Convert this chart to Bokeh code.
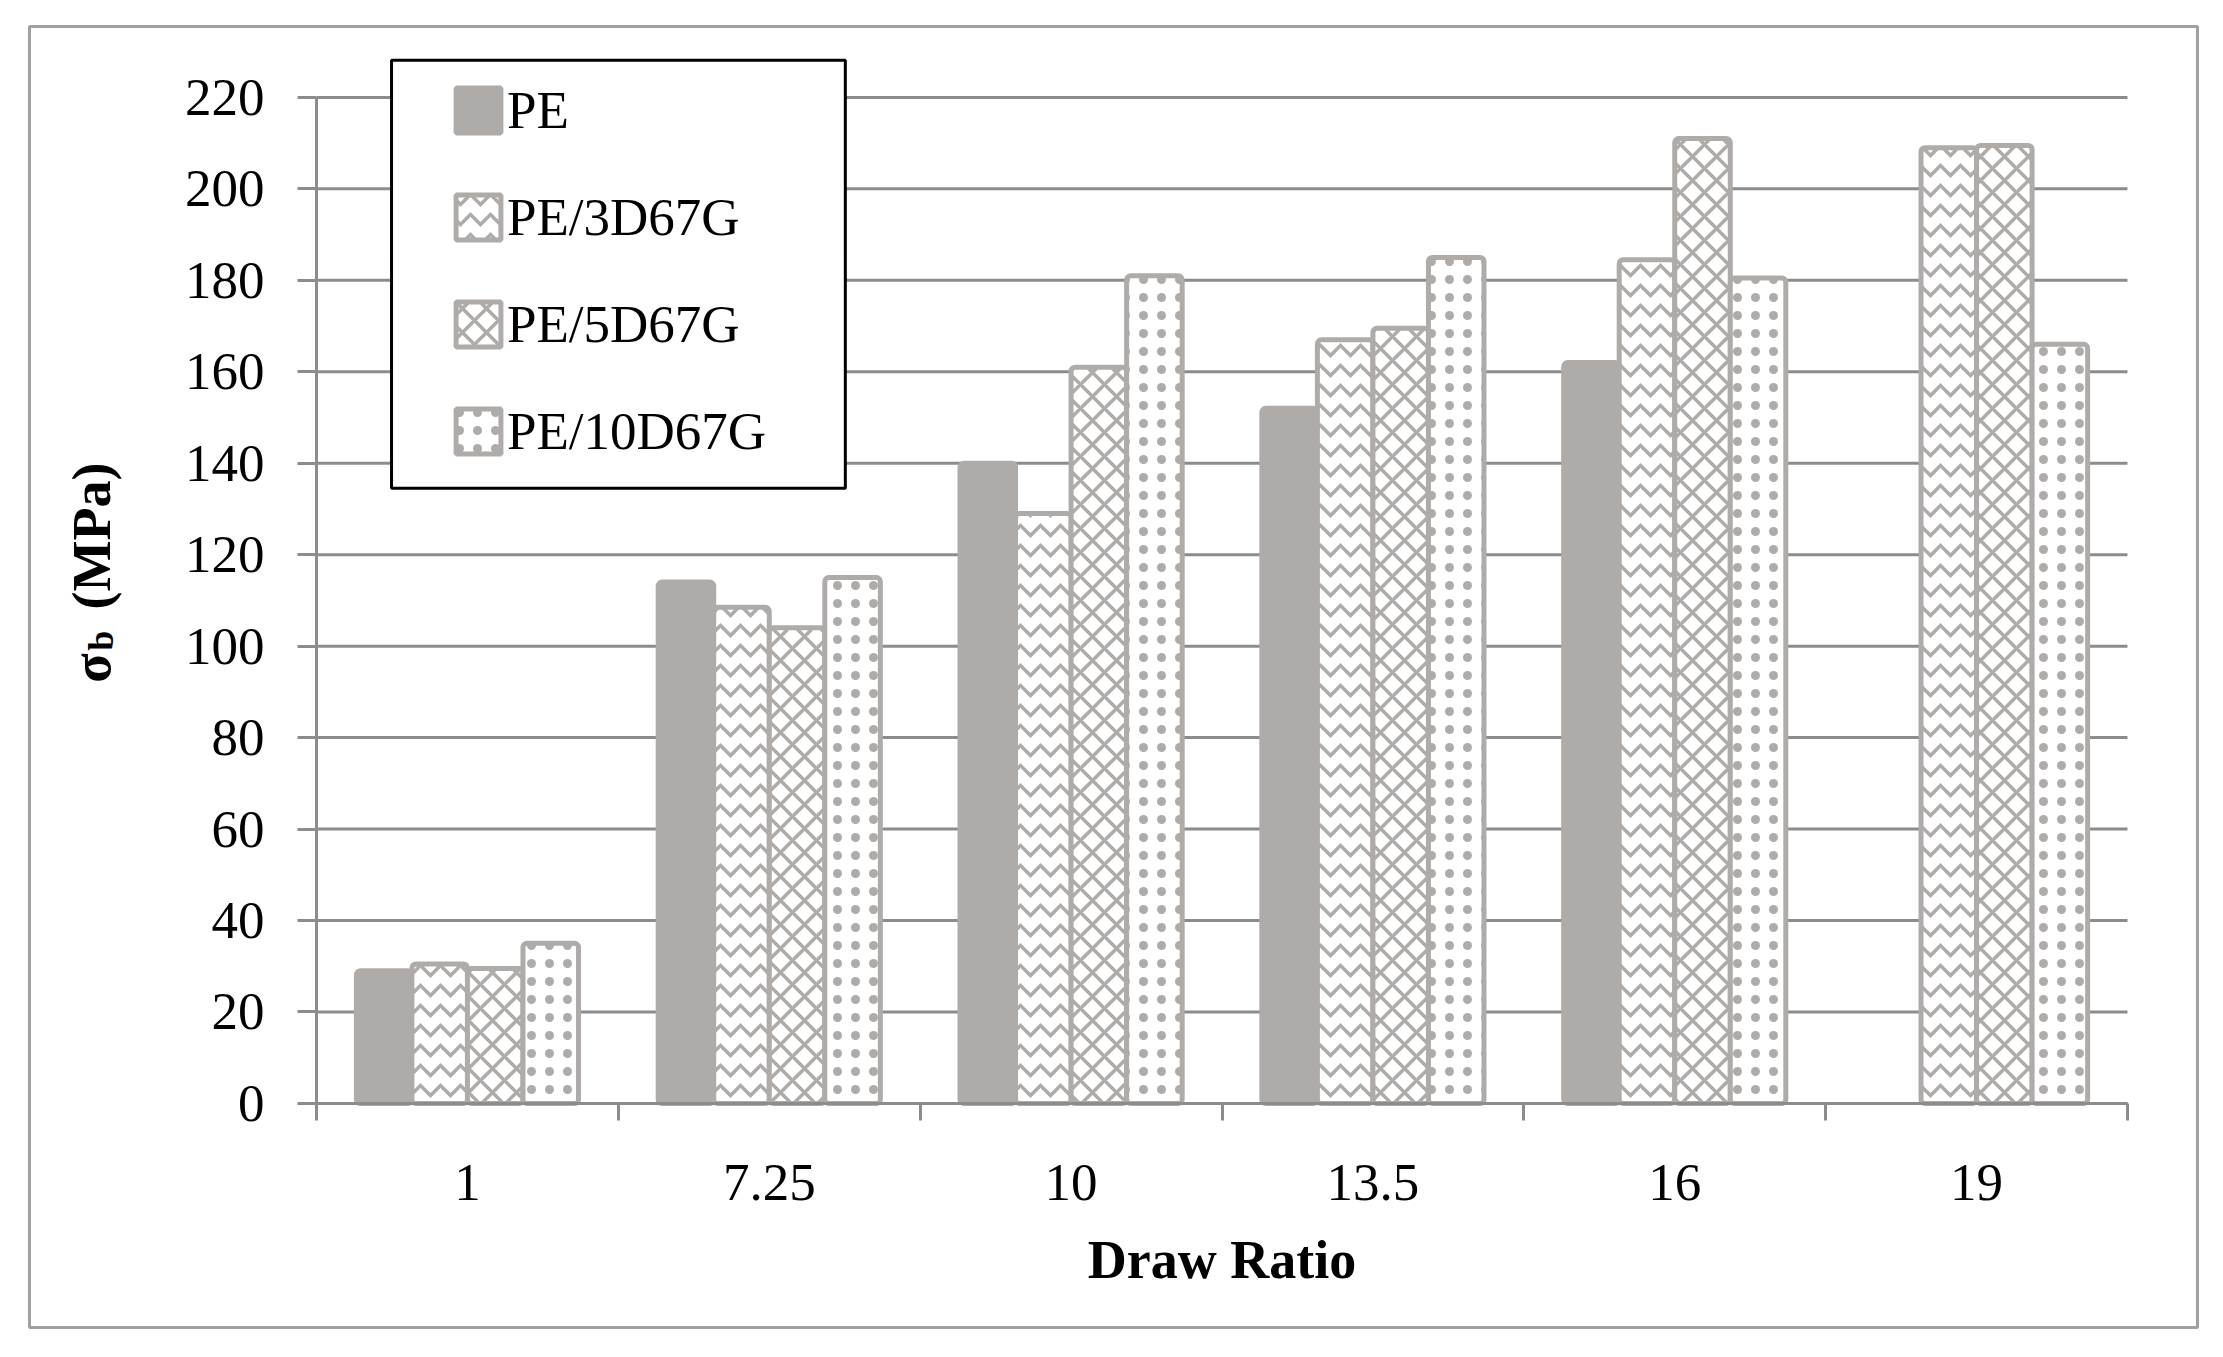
import numpy as np
from bokeh.plotting import figure
from bokeh.models import (ColumnDataSource, Range1d, FixedTicker, Legend, LegendItem,
                          BoxAnnotation, Label)
from bokeh.embed import file_html
from bokeh.resources import INLINE

# ---------------- data ----------------
draw_ratios = ["1", "7.25", "10", "13.5", "16", "19"]
pe        = [29.0, 114.0, 140.0, 152.0, 162.0, np.nan]
pe_3d67g  = [30.5, 108.5, 129.0, 167.0, 184.5, 209.0]
pe_5d67g  = [29.5, 104.0, 161.0, 169.5, 211.0, 209.5]
pe_10d67g = [35.0, 115.0, 181.0, 185.0, 180.5, 166.0]
series_names = ["PE", "PE/3D67G", "PE/5D67G", "PE/10D67G"]
y_ticks = list(range(0, 221, 20))

# ---------------- style ----------------
FONT = "Liberation Serif"
BAR_GRAY = "#AFABA9"
GRID_GRAY = "#8C8C8C"
BORDER_GRAY = "#A0A0A0"

n = len(draw_ratios)
centers = np.arange(n) + 0.5
bar_w = 0.184
offsets = [-0.276, -0.092, 0.092, 0.276]
hatches = [None, "horizontal_wave", "diagonal_cross", "dot"]
hatch_scales = [12, 20, 24, 18]
values = [pe, pe_3d67g, pe_5d67g, pe_10d67g]

# frame covers the whole bordered chart area; axes are fixed at x=0 / y=0
p = figure(width=2215, height=1349, output_backend="svg", toolbar_location=None,
           x_range=Range1d(-0.951, 6.232), y_range=Range1d(-49.0, 235.5),
           min_border_left=29, min_border_top=26, min_border_right=18,
           min_border_bottom=22)
p.outline_line_color = BORDER_GRAY
p.outline_line_width = 3
p.background_fill_color = "white"
p.border_fill_color = "white"
p.xgrid.visible = False
p.ygrid.visible = False

# horizontal grid lines within the plotting area
grid_src = ColumnDataSource(dict(y=y_ticks))
p.segment(x0=0, x1=n, y0="y", y1="y", source=grid_src,
          line_color=GRID_GRAY, line_width=3, level="underlay")

renderers = []
for name, vals, off, hatch, hs in zip(series_names, values, offsets, hatches, hatch_scales):
    src = ColumnDataSource(dict(x=centers + off, top=vals))
    kw = dict(x="x", top="top", bottom=0, width=bar_w, source=src,
              line_color=BAR_GRAY, line_width=5, border_radius=4)
    if hatch is None:
        r = p.vbar(fill_color=BAR_GRAY, **kw)
    else:
        r = p.vbar(fill_color="white", hatch_pattern=hatch, hatch_color=BAR_GRAY,
                   hatch_scale=hs, hatch_weight=3.5, **kw)
    renderers.append(r)

# ---------------- axes ----------------
xa = p.xaxis[0]
xa.fixed_location = 0
xa.bounds = (0, n)
xa.ticker = FixedTicker(ticks=list(centers), minor_ticks=list(range(0, n + 1)))
xa.major_label_overrides = {float(c): lab for c, lab in zip(centers, draw_ratios)}
xa.major_tick_out = 0
xa.major_tick_in = 0
xa.major_tick_line_color = None
xa.minor_tick_out = 17
xa.minor_tick_in = 0
xa.minor_tick_line_color = GRID_GRAY
xa.minor_tick_line_width = 3
xa.axis_line_color = GRID_GRAY
xa.axis_line_width = 3
xa.major_label_text_font = FONT
xa.major_label_text_font_size = "53px"
xa.major_label_text_color = "black"
xa.major_label_standoff = 45
xa.axis_label = "Draw Ratio"
xa.axis_label_text_font = FONT
xa.axis_label_text_font_style = "bold"
xa.axis_label_text_font_size = "54px"
xa.axis_label_text_color = "black"
xa.axis_label_standoff = 26

ya = p.yaxis[0]
ya.fixed_location = 0
ya.bounds = (0, 220)
ya.ticker = FixedTicker(ticks=y_ticks, minor_ticks=[])
ya.major_tick_out = 19
ya.major_tick_in = 0
ya.major_tick_line_color = GRID_GRAY
ya.major_tick_line_width = 3
ya.minor_tick_line_color = None
ya.axis_line_color = GRID_GRAY
ya.axis_line_width = 3
ya.major_label_text_font = FONT
ya.major_label_text_font_size = "53px"
ya.major_label_text_color = "black"
ya.major_label_standoff = 33

# y axis title: sigma_b (MPa) built from rotated labels
title_common = dict(angle=np.pi / 2, text_font=FONT, text_font_style="bold",
                    text_color="black", text_align="left", text_baseline="alphabetic")
p.add_layout(Label(x=-0.7455, y=92.0, text="σ", text_font_size="54px", **title_common))
p.add_layout(Label(x=-0.7125, y=99.0, text="b", text_font_size="36px", **title_common))
p.add_layout(Label(x=-0.7455, y=108.0, text="(MPa)", text_font_size="54px", **title_common))

# ---------------- legend ----------------
legend_box = BoxAnnotation(left=0.2485, right=1.752, top=228.1, bottom=134.5,
                           fill_color="white", fill_alpha=1.0,
                           line_color="black", line_alpha=1.0, line_width=3,
                           level="annotation")
p.add_layout(legend_box)

legend = Legend(items=[LegendItem(label=nm, renderers=[r]) for nm, r in zip(series_names, renderers)],
                location=(421, 866), orientation="vertical",
                glyph_width=56, glyph_height=56, label_height=60, spacing=47,
                padding=0, margin=0, label_standoff=1,
                label_text_font=FONT, label_text_font_size="53px", label_text_color="black",
                border_line_alpha=0, background_fill_alpha=0)
p.add_layout(legend, "center")

open("out.html", "w").write(file_html(p, INLINE))
